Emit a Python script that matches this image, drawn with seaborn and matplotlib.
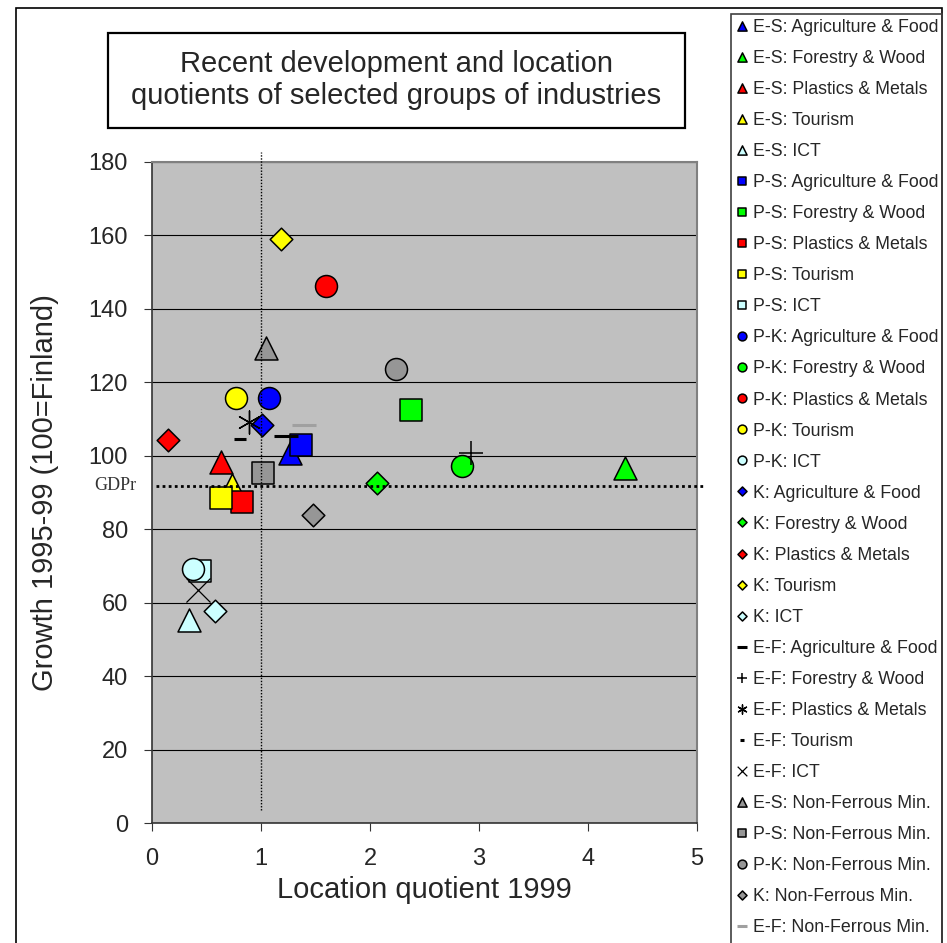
import pandas as pd
import seaborn as sns
import matplotlib.pyplot as plt
from matplotlib.patches import Rectangle

# ---- data ----
regions = ["E-S", "P-S", "P-K", "K", "E-F"]
industries = ["Agriculture & Food", "Forestry & Wood", "Plastics & Metals", "Tourism", "ICT"]
nf_name = "Non-Ferrous Min."

# location quotient 1999, industries in the order above
es_lq = [1.27, 4.34, 0.63, 0.73, 0.34]
ps_lq = [1.37, 2.38, 0.83, 0.63, 0.44]
pk_lq = [1.07, 2.84, 1.60, 0.77, 0.38]
k_lq = [1.01, 2.06, 0.15, 1.18, 0.58]
ef_lq = [1.23, 2.93, 0.89, 0.81, 0.42]

# growth 1995-99 (100 = Finland)
es_growth = [100.7, 96.6, 98.2, 92.0, 55.3]
ps_growth = [102.8, 112.5, 87.5, 88.4, 68.7]
pk_growth = [115.7, 97.3, 146.1, 115.7, 69.2]
k_growth = [108.3, 92.7, 104.3, 159.1, 57.8]
ef_growth = [105.4, 100.8, 109.1, 104.5, 63.5]

# non-ferrous minerals, regions in the order above
nf_lq = [1.05, 1.02, 2.24, 1.48, 1.39]
nf_growth = [129.3, 95.2, 123.6, 83.9, 108.5]

gdpr_level = 91.8
gdpr_x = [0.04, 5.06]
lq_ref = 1.0
lq_ref_y = [3.5, 182.8]

rows = []
for reg, xs, ys in zip(regions, [es_lq, ps_lq, pk_lq, k_lq, ef_lq],
                       [es_growth, ps_growth, pk_growth, k_growth, ef_growth]):
    for ind, x, y in zip(industries, xs, ys):
        rows.append((reg, ind, x, y))
for reg, x, y in zip(regions, nf_lq, nf_growth):
    rows.append((reg, nf_name, x, y))
df = pd.DataFrame(rows, columns=["region", "industry", "lq", "growth"])
df["label"] = df["region"] + ": " + df["industry"]

# ---- styles ----
ind_colors = {"Agriculture & Food": "#0000FF", "Forestry & Wood": "#00FF00",
              "Plastics & Metals": "#FF0000", "Tourism": "#FFFF00",
              "ICT": "#CCFFFF", nf_name: "#969696"}
reg_markers = {"E-S": ("^", 274), "P-S": ("s", 250), "P-K": ("o", 250), "K": ("D", 133)}
ef_markers = {"Agriculture & Food": ("_", 275, 2.2), "Forestry & Wood": ("+", 300, 1.1),
              "Plastics & Metals": ((6, 2, 0), 275, 1.0), "Tourism": ("_", 75, 2.2),
              "ICT": ("x", 300, 0.9), nf_name: ("_", 275, 2.2)}

sns.set_style("white")
plt.rcParams["font.family"] = ["Liberation Sans", "DejaVu Sans"]

W, H = 947, 943
fig = plt.figure(figsize=(W / 100, H / 100), dpi=100)
ax = fig.add_axes([152 / W, 1 - 823 / H, (697 - 152) / W, (823 - 162) / H])
ax.set_facecolor("#C0C0C0")

for _, r in df.iterrows():
    if r.region == "E-F":
        m, s, lw = ef_markers[r.industry]
        col = "#A0A0A0" if r.industry == nf_name else "black"
        sns.scatterplot(x=[r.lq], y=[r.growth], marker=m, s=s, color=col,
                        linewidth=lw, label=r.label, legend=False, ax=ax, zorder=3)
    else:
        m, s = reg_markers[r.region]
        sns.scatterplot(x=[r.lq], y=[r.growth], marker=m, s=s, color=ind_colors[r.industry],
                        edgecolor="black", linewidth=1.1, label=r.label, legend=False,
                        ax=ax, zorder=3)

# reference lines
ax.plot(gdpr_x, [gdpr_level] * 2, color="black", lw=2, ls=(0, (1, 1.2)),
        clip_on=False, zorder=4)
ax.plot([lq_ref] * 2, lq_ref_y, color="black", lw=1, ls=(0, (1, 1.2)),
        clip_on=False, zorder=4)
ax.text(-0.14, gdpr_level, "GDPr", ha="right", va="center", fontsize=13,
        family=["Liberation Serif", "DejaVu Serif"], color="#333333")

# axes
ax.set_xlim(0, 5)
ax.set_ylim(0, 180)
ax.set_xticks(range(0, 6))
ax.set_yticks(range(0, 181, 20))
ax.set_axisbelow(True)
ax.yaxis.grid(True, color="black", lw=0.8)
ax.xaxis.grid(False)
ax.tick_params(axis="both", direction="out", length=5.8, width=0.8, color="#333333",
               labelsize=17, bottom=True, left=True)
ax.tick_params(axis="x", pad=12)
ax.tick_params(axis="y", pad=11.5)
for side in ["left", "bottom"]:
    ax.spines[side].set_color("#333333")
    ax.spines[side].set_linewidth(1.2)
for side in ["top", "right"]:
    ax.spines[side].set_color("#808080")
    ax.spines[side].set_linewidth(1.5)

ax.set_xlabel("Location quotient 1999", fontsize=21)
ax.set_ylabel("Growth 1995-99 (100=Finland)", fontsize=21)
ax.xaxis.set_label_coords(0.5, -0.08)
ax.yaxis.set_label_coords(-0.17, 0.5)

# title box
fig.add_artist(Rectangle((108 / W, 1 - 128 / H), (685 - 108) / W, 95 / H,
                         transform=fig.transFigure, fill=False, ec="black", lw=1.6))
fig.text(396.5 / W, 1 - 80 / H,
         "Recent development and location\nquotients of selected groups of industries",
         ha="center", va="center", fontsize=21, linespacing=1.15)

# outer chart frame and legend frame
fig.add_artist(Rectangle((16 / W, -0.05), (942 - 16) / W, 1.05 - 8 / H,
                         transform=fig.transFigure, fill=False, ec="black", lw=1.2))
fig.add_artist(Rectangle((731 / W, -0.05), (942 - 731) / W, 1.05 - 14 / H,
                         transform=fig.transFigure, fill=False, ec="#404040", lw=1.2))

handles, labels = ax.get_legend_handles_labels()
fig.legend(handles, labels, loc="upper left", bbox_to_anchor=(735 / W, 1 - 19 / H),
           frameon=False, fontsize=12.8, markerscale=0.4, handlelength=0.8,
           handletextpad=0.2, labelspacing=0.79, borderpad=0, borderaxespad=0,
           scatteryoffsets=[0.5])

fig.savefig("out.png", dpi=100)
